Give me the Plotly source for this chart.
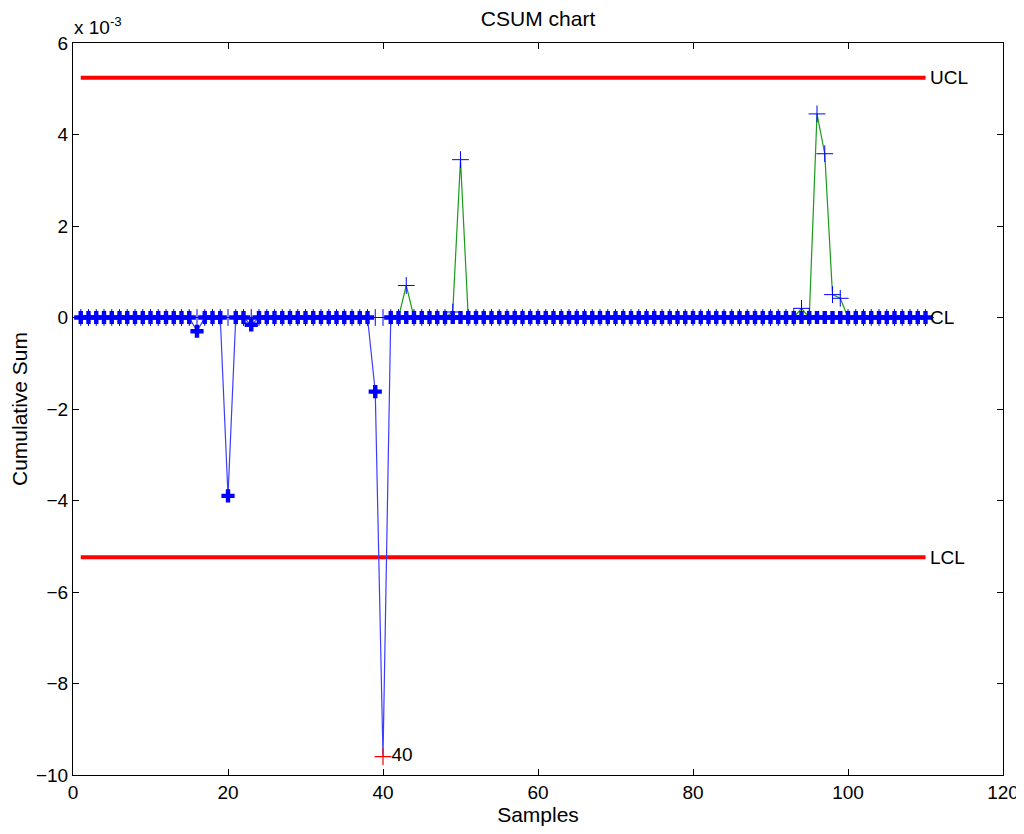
import plotly.graph_objects as go

# ---- data (values in units of 1e-3) ----
samples = list(range(1, 111))
upper_nonzero = {43: 0.70, 49: 0.12, 50: 3.45, 94: 0.20, 96: 4.45, 97: 3.58, 98: 0.50, 99: 0.42}
lower_nonzero = {16: -0.30, 20: -3.90, 23: -0.16, 39: -1.62, 40: -9.60}
upper_cusum = [upper_nonzero.get(s, 0.0) for s in samples]
lower_cusum = [lower_nonzero.get(s, 0.0) for s in samples]
ucl_value = 5.24
lcl_value = -5.24
cl_value = 0.0
out_of_control = [40]

FONT = "Arial, Liberation Sans, sans-serif"

fig = go.Figure()

# control limits
for val in (ucl_value, lcl_value):
    fig.add_trace(go.Scatter(x=[samples[0], samples[-1]], y=[val, val], mode="lines",
                             line=dict(color="#ff0000", width=4), hoverinfo="skip"))
fig.add_trace(go.Scatter(x=[samples[0], samples[-1]], y=[cl_value, cl_value], mode="lines",
                         line=dict(color="#0000ff", width=1), hoverinfo="skip"))

# upper cusum: green line, thin blue plus markers
fig.add_trace(go.Scatter(x=samples, y=upper_cusum, mode="lines",
                         line=dict(color="#1a9a1a", width=1.2)))
fig.add_trace(go.Scatter(x=samples, y=upper_cusum, mode="markers",
                         marker=dict(symbol="cross-thin", size=12, opacity=1,
                                     line=dict(color="#0000ff", width=1))))

# lower cusum: blue line, bold plus markers
fig.add_trace(go.Scatter(x=samples, y=lower_cusum, mode="lines",
                         line=dict(color="#3c3cff", width=1.2)))
ms = [0 if s in out_of_control else 11 for s in samples]
fig.add_trace(go.Scatter(x=samples, y=lower_cusum, mode="markers",
                         marker=dict(symbol="cross", size=ms, color="#0000ff", opacity=1,
                                     line=dict(width=0))))

# out of control points
ooc_y = [lower_cusum[samples.index(s)] for s in out_of_control]
fig.add_trace(go.Scatter(x=out_of_control, y=ooc_y, mode="markers+text",
                         text=[str(s) for s in out_of_control], textposition="middle right",
                         textfont=dict(family=FONT, size=19, color="black"),
                         marker=dict(symbol="cross-thin", size=12, opacity=1,
                                     line=dict(color="#ff0000", width=1.2))))

# limit labels
for txt, val in (("UCL", ucl_value), ("CL", cl_value), ("LCL", lcl_value)):
    fig.add_annotation(x=samples[-1] + 0.6, y=val, text=txt, showarrow=False,
                       xanchor="left", yanchor="middle", xshift=-2,
                       font=dict(family=FONT, size=19, color="black"))

fig.add_annotation(xref="paper", yref="paper", x=0.0, y=1.0, yshift=3, xshift=-1,
                   text="x 10<sup>-3</sup>", showarrow=False, xanchor="left", yanchor="bottom",
                   font=dict(family=FONT, size=19, color="black"))

axis_common = dict(showgrid=False, zeroline=False, showline=True, linecolor="black",
                   linewidth=1, mirror="ticks", ticks="inside", ticklen=6,
                   tickcolor="black", automargin=False,
                   tickfont=dict(family=FONT, size=19, color="black"))

# page body has an 8px margin: figure is sized so the plot area lands where the reference has it
fig.update_layout(
    width=1016, height=818,
    margin=dict(l=65, r=21, t=35, b=51, autoexpand=False),
    paper_bgcolor="white", plot_bgcolor="white",
    showlegend=False,
    title=dict(text="CSUM chart", x=0.5217, xanchor="center", y=0.9866, yanchor="middle",
               automargin=False,
               font=dict(family=FONT, size=21, color="black")),
    xaxis=dict(range=[0, 120], tickvals=[0, 20, 40, 60, 80, 100, 120],
               title=dict(text="Samples", standoff=3,
                          font=dict(family=FONT, size=21, color="black")),
               **axis_common),
    yaxis=dict(range=[-10, 6], tickvals=[-10, -8, -6, -4, -2, 0, 2, 4, 6],
               title=dict(text="Cumulative Sum", standoff=8,
                          font=dict(family=FONT, size=21, color="black")),
               **axis_common),
)

fig.write_html("out.html")
